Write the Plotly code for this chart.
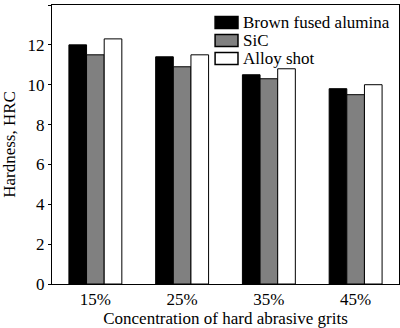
import plotly.graph_objects as go

categories = ["15%", "25%", "35%", "45%"]
series_names = ["Brown fused alumina", "SiC", "Alloy shot"]
brown_fused_alumina = [12.0, 11.4, 10.5, 9.8]
sic = [11.5, 10.9, 10.3, 9.5]
alloy_shot = [12.3, 11.5, 10.8, 10.0]
y_ticks = [0, 2, 4, 6, 8, 10, 12, 14]

colors = ["#000000", "#808080", "#ffffff"]
series_values = [brown_fused_alumina, sic, alloy_shot]

FONT = "Liberation Serif, Times New Roman, serif"

fig = go.Figure()
for name, vals, col in zip(series_names, series_values, colors):
    fig.add_trace(go.Bar(
        x=categories, y=vals, name=name,
        marker=dict(color=col, line=dict(color="#000000", width=1)),
        showlegend=False,
    ))

# custom legend (wide swatches like the reference)
row_h = 18.0 / 279.0
y0 = 1 - 17.5 / 279.0
sw_x0, sw_x1 = 0.470, 0.536
sw_h = 12.0 / 279.0
for i, (name, col) in enumerate(zip(series_names, colors)):
    yc = y0 - i * row_h
    fig.add_shape(type="rect", xref="paper", yref="paper",
                  x0=sw_x0, x1=sw_x1, y0=yc - sw_h / 2, y1=yc + sw_h / 2,
                  fillcolor=col, line=dict(color="#000000", width=1.5))
    fig.add_annotation(xref="paper", yref="paper", x=0.545, y=yc,
                       text=name, showarrow=False, xanchor="left", yanchor="middle",
                       font=dict(family=FONT, size=17, color="#000000"))

fig.update_layout(
    width=400, height=328,
    margin=dict(l=52, r=1, t=5, b=44),
    paper_bgcolor="#ffffff", plot_bgcolor="#ffffff",
    font=dict(family=FONT, size=17, color="#000000"),
    barmode="group", bargap=0.39, bargroupgap=0.0,
)
fig.update_xaxes(
    showline=True, linecolor="#000000", linewidth=1, mirror=True,
    ticks="", showgrid=False,
    title=dict(text="Concentration of hard abrasive grits", standoff=4,
               font=dict(family=FONT, size=17)),
    tickfont=dict(family=FONT, size=17),
)
fig.update_yaxes(
    range=[0, 14], tickvals=y_ticks,
    showline=True, linecolor="#000000", linewidth=1, mirror=True,
    ticks="outside", ticklen=3, tickcolor="#000000", showgrid=False, zeroline=False,
    title=dict(text="Hardness, HRC", standoff=12, font=dict(family=FONT, size=17)),
    tickfont=dict(family=FONT, size=17),
)

fig.write_html("out.html")
